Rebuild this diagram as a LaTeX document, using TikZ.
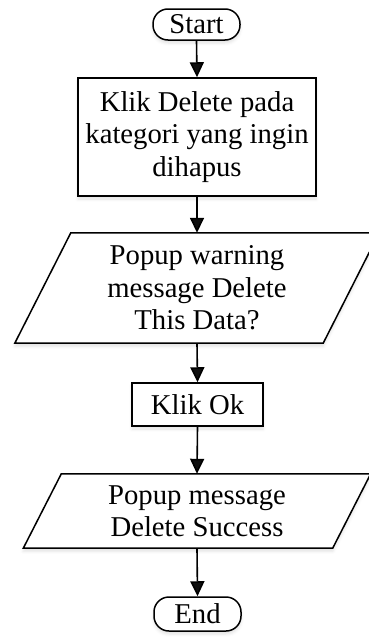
\documentclass[tikz,border=0pt]{standalone}
\usepackage{fontspec}
\setmainfont{Liberation Serif}
\usetikzlibrary{arrows.meta,shadows.blur}

\tikzset{
  base/.style={font=\fontsize{28.7}{32.5}\selectfont, align=center, inner sep=0pt},
  soft/.style={blur shadow={shadow xshift=0pt, shadow yshift=-3pt, shadow blur radius=3pt, shadow opacity=12}},
  procbox/.style={base, draw, line width=1.5pt, fill=white, soft},
  termbox/.style={base, draw, line width=1.5pt, fill=white, soft, rounded corners=15pt},
  iobox/.style={base},
  flow/.style={line width=1.6pt, -{Triangle[width=14pt,length=15pt]}},
}

\begin{document}
\begin{tikzpicture}[x=1pt,y=-1pt]
  \useasboundingbox (0,0) rectangle (368,637);

  % terminals and process boxes
  \node[termbox, minimum width=87pt, minimum height=31pt] (start) at (196.5,24.5) {Start};
  \node[procbox, minimum width=238pt, minimum height=118pt] (del) at (197,137)
    {Klik Delete pada\\kategori yang ingin\\dihapus};

  % first input/output parallelogram
  \node[iobox, minimum width=308pt, minimum height=110pt] (warn) at (197,288) {};
  \draw[line width=1.5pt, fill=white, soft]
    ([xshift=-28pt]warn.south west) -- ([xshift=28pt]warn.north west)
    -- ([xshift=28pt]warn.north east) -- ([xshift=-28pt]warn.south east) -- cycle;
  \node[base] at (warn.center) {Popup warning\\message Delete\\This Data?};

  \node[procbox, minimum width=131pt, minimum height=43pt] (ok) at (197.5,404.5) {Klik Ok};

  % second input/output parallelogram
  \node[iobox, minimum width=309pt, minimum height=74pt] (succ) at (197,511) {};
  \draw[line width=1.5pt, fill=white, soft]
    ([xshift=-19pt]succ.south west) -- ([xshift=19pt]succ.north west)
    -- ([xshift=19pt]succ.north east) -- ([xshift=-19pt]succ.south east) -- cycle;
  \node[base] at (succ.center) {Popup message\\Delete Success};

  \node[termbox, minimum width=87pt, minimum height=34pt] (end) at (197.5,614) {End};

  % connectors
  \draw[flow] (start.south) -- (del.north);
  \draw[flow] (del.south) -- (warn.north);
  \draw[flow] (warn.south) -- (ok.north);
  \draw[flow] (ok.south) -- (succ.north);
  \draw[flow] (succ.south) -- (end.north);
\end{tikzpicture}
\end{document}
